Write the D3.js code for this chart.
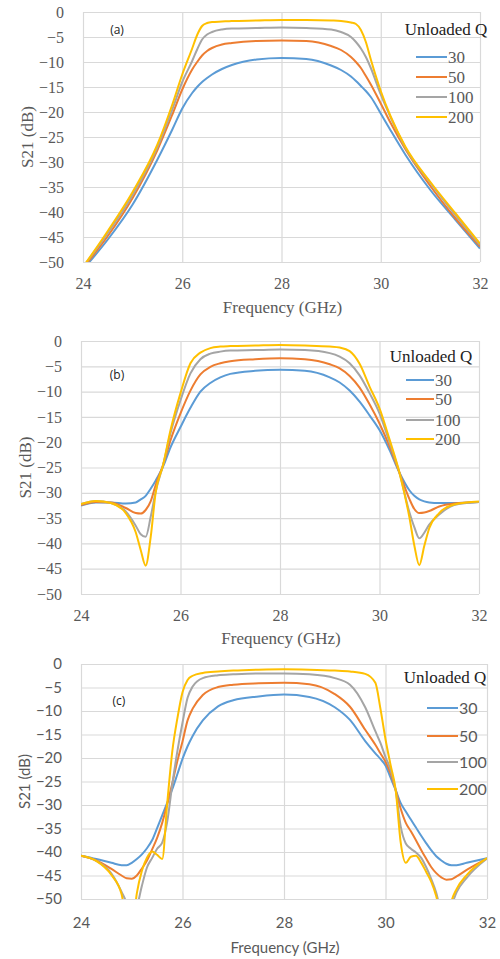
<!DOCTYPE html>
<html>
<head>
<meta charset="utf-8">
<title>S21 vs frequency</title>
<style>
  body { margin: 0; background: #fff; }
  svg { display: block; }
</style>
</head>
<body>
<div id="chart"></div>
<script src="https://d3js.org/d3.v7.min.js"></script>
<script>

// legend entries (unloaded Q) and axis ticks
var qLabels = ["30", "50", "100", "200"];
var xTicks = [24, 26, 28, 30, 32];
var yTicks = [0, -5, -10, -15, -20, -25, -30, -35, -40, -45, -50];

// panel (a)
var freqA = [24, 24.5, 25, 25.5, 25.8, 26, 26.2, 26.3, 26.4, 26.5, 26.6, 26.8, 27, 27.5, 28,
             28.5, 29, 29.2, 29.4, 29.5, 29.6, 29.7, 29.8, 30, 30.2, 30.5, 31, 31.5, 32];
var a30  = [-51.5, -45.5, -38.5, -29.5, -23.5, -19.3, -16.2, -15.0, -14.0, -13.2, -12.5, -11.4, -10.6, -9.5, -9.2,
            -9.4, -10.7, -11.6, -12.9, -13.8, -14.8, -15.8, -17.0, -20.3, -23.7, -28.6, -35.6, -41.5, -47.3];
var a50  = [-51.2, -44.8, -37.2, -27.6, -20.5, -15.5, -11.5, -10.0, -8.7, -7.8, -7.2, -6.5, -6.2, -5.8, -5.7,
            -5.8, -6.8, -7.6, -9.0, -10.0, -11.2, -12.8, -14.5, -18.3, -22.2, -27.5, -34.8, -41.2, -46.9];
var a100 = [-51.0, -44.2, -36.6, -27.0, -19.5, -14.0, -9.8, -7.5, -5.5, -4.5, -4.0, -3.5, -3.3, -3.2, -3.1,
            -3.2, -3.5, -4.0, -5.0, -6.0, -7.3, -9.0, -11.2, -16.5, -21.1, -27.2, -34.2, -40.6, -46.6];
var a200 = [-51.0, -43.8, -36.0, -26.5, -18.5, -12.5, -7.3, -4.6, -2.8, -2.2, -2.0, -1.9, -1.8, -1.7, -1.6,
            -1.6, -1.7, -1.8, -2.1, -2.4, -3.6, -6.0, -9.5, -15.8, -20.9, -27.0, -34.0, -40.2, -46.3];

// panel (b)
var freqB = [24, 24.3, 24.6, 24.9, 25.1, 25.2, 25.3, 25.4, 25.5, 25.65, 25.8, 26, 26.2, 26.4, 26.6, 26.8, 27, 27.5, 28,
             28.5, 29, 29.2, 29.4, 29.6, 29.8, 30, 30.2, 30.4, 30.6, 30.7, 30.8, 30.9, 31, 31.2, 31.5, 32];
var b30  = [-32.5, -31.9, -31.9, -32.1, -31.9, -31.3, -30.6, -29.2, -27.6, -24.8, -21.0, -17.0, -13.2, -10.0, -8.3, -7.2, -6.5, -5.9, -5.7,
            -5.9, -7.2, -8.2, -9.8, -12.0, -14.7, -17.6, -21.5, -26.0, -29.5, -30.6, -31.3, -31.7, -31.9, -32.0, -32.0, -31.8];
var b50  = [-32.4, -31.8, -31.9, -33.0, -34.0, -34.1, -33.4, -31.7, -28.5, -24.5, -19.6, -14.3, -9.8, -6.6, -5.1, -4.4, -4.0, -3.6, -3.4,
            -3.6, -4.6, -5.4, -6.9, -9.2, -12.5, -16.3, -20.8, -26.0, -31.2, -33.2, -34.0, -33.9, -33.6, -32.7, -32.1, -31.8];
var b100 = [-32.2, -31.6, -32.0, -33.7, -36.5, -38.2, -38.7, -34.8, -29.8, -24.5, -18.2, -11.7, -6.4, -3.6, -2.5, -2.1, -1.9, -1.8, -1.7,
            -1.8, -2.4, -3.1, -4.4, -6.8, -10.3, -14.3, -20.0, -26.0, -33.8, -36.8, -39.0, -37.9, -36.3, -34.3, -32.4, -31.8];
var b200 = [-32.2, -31.6, -32.0, -34.0, -37.8, -41.3, -44.4, -38.8, -30.0, -24.5, -17.6, -10.3, -4.4, -2.3, -1.4, -1.1, -1.0, -0.9, -0.8,
            -0.9, -1.1, -1.3, -2.0, -4.5, -9.0, -13.3, -19.4, -26.0, -34.8, -40.4, -44.3, -40.5, -37.0, -34.0, -32.3, -31.7];

// panel (c)
var freqC = [24, 24.3, 24.6, 24.8, 24.9, 25.0, 25.1, 25.2, 25.3, 25.4, 25.5, 25.6, 25.7, 25.8, 25.9, 26, 26.1, 26.2, 26.4, 26.7, 27, 27.5, 28,
             28.5, 29, 29.3, 29.6, 29.8, 29.9, 30, 30.1, 30.2, 30.3, 30.4, 30.5, 30.6, 30.7, 30.8, 30.9, 31, 31.1, 31.2, 31.3, 31.4, 31.6, 32];
var c30  = [-40.8, -41.5, -42.3, -42.8, -42.8, -42.3, -41.5, -40.5, -39.2, -37.5, -34.9, -32.2, -29.5, -26.6, -23.4, -20.2, -17.5, -15.3, -12.0, -9.0, -7.7, -6.9, -6.5,
            -7.0, -9.2, -11.9, -16.4, -19.0, -20.2, -21.6, -24.2, -26.8, -29.6, -31.4, -33.1, -34.8, -36.5, -38.1, -39.6, -40.9, -41.8, -42.5, -42.8, -42.8, -42.3, -41.3];
var c50  = [-40.8, -41.8, -43.6, -45.0, -45.6, -45.7, -45.0, -43.5, -41.8, -39.5, -37.0, -33.8, -29.8, -25.3, -20.6, -16.5, -12.0, -9.5, -6.6, -4.9, -4.4, -4.1, -4.0,
            -4.3, -6.4, -9.1, -14.0, -17.2, -19.0, -20.8, -23.3, -26.8, -30.8, -33.8, -35.6, -37.5, -39.5, -41.4, -43.2, -44.5, -45.4, -45.9, -45.8, -45.2, -43.8, -41.4];
var c100 = [-40.8, -41.9, -44.6, -48.5, -51.0, -56.0, -52.0, -47.2, -43.3, -41.3, -39.3, -38.0, -33.5, -25.5, -18.5, -12.5, -7.2, -4.8, -3.0, -2.4, -2.2, -2.0, -2.0,
            -2.2, -3.0, -4.4, -9.2, -14.3, -16.8, -19.8, -22.5, -26.8, -34.6, -38.2, -39.3, -40.1, -41.2, -43.2, -45.7, -48.7, -53.0, -55.0, -51.5, -48.6, -45.5, -41.4];
var c200 = [-40.8, -41.9, -44.9, -49.0, -55.0, -57.0, -48.8, -44.0, -41.2, -39.9, -40.6, -41.5, -29.5, -18.5, -11.5, -6.0, -3.4, -2.5, -1.9, -1.6, -1.4, -1.2, -1.1,
            -1.2, -1.4, -1.6, -2.1, -4.0, -9.5, -16.0, -21.5, -26.8, -38.0, -42.3, -41.0, -40.8, -42.2, -44.2, -46.3, -49.4, -54.0, -56.0, -50.5, -47.9, -44.9, -41.3];

var colors = ["#5b9bd5", "#ed7d31", "#a5a5a5", "#ffc000"];
var serif = "'Liberation Serif', 'Times New Roman', serif";
var sans = "Lato, 'Open Sans', sans-serif";

var panels = [
  {tag: "(a)", freq: freqA, series: [a30, a50, a100, a200], font: serif, tick: 16, title: 17,
   left: 83, right: 480, top: 12, bottom: 262, tagX: 117, tagY: 30,
   xTickY: 283, titleY: 307, yTitleX: 27,
   leg: {x: 446, y: 29, rows: [57, 77, 97, 117], x1: 416, x2: 447}},
  {tag: "(b)", freq: freqB, series: [b30, b50, b100, b200], font: serif, tick: 16, title: 17,
   left: 81, right: 479, top: 341, bottom: 594, tagX: 117, tagY: 375,
   xTickY: 615, titleY: 638, yTitleX: 25,
   leg: {x: 431, y: 356, rows: [380, 399, 420, 439], x1: 406, x2: 434}},
  {tag: "(c)", freq: freqC, series: [c30, c50, c100, c200], font: sans, tick: 15, title: 15,
   left: 81, right: 487, top: 664, bottom: 899, tagX: 119, tagY: 701,
   xTickY: 923, titleY: 948, yTitleX: 25,
   leg: {x: 445, y: 677, rows: [708, 736, 762, 789], x1: 427, x2: 458}}
];

var svg = d3.select("#chart").append("svg")
    .attr("width", 500)
    .attr("height", 959);

panels.forEach(function(p, i) {
  var x = d3.scaleLinear().domain([24, 32]).range([p.left, p.right]);
  var y = d3.scaleLinear().domain([-50, 0]).range([p.bottom, p.top]);
  var g = svg.append("g");

  // grid lines (all ticks, including the frame)
  g.append("g")
    .attr("transform", "translate(0," + p.bottom + ")")
    .call(d3.axisBottom(x).tickValues(xTicks).tickSize(-(p.bottom - p.top)).tickFormat(""))
    .call(function(s) { s.select(".domain").remove(); })
    .selectAll("line").attr("stroke", "#d9d9d9").attr("stroke-width", 1.2);
  g.append("g")
    .attr("transform", "translate(" + p.left + ",0)")
    .call(d3.axisLeft(y).tickValues(yTicks).tickSize(-(p.right - p.left)).tickFormat(""))
    .call(function(s) { s.select(".domain").remove(); })
    .selectAll("line").attr("stroke", "#d9d9d9").attr("stroke-width", 1.2);

  // tick labels
  var yAx = g.append("g")
    .attr("transform", "translate(" + p.left + ",0)")
    .call(d3.axisLeft(y).tickValues(yTicks).tickSize(0).tickPadding(19));
  var xAx = g.append("g")
    .attr("transform", "translate(0," + p.bottom + ")")
    .call(d3.axisBottom(x).tickValues(xTicks).tickSize(0));
  [yAx, xAx].forEach(function(a) {
    a.attr("font-family", null).attr("font-size", null);
    a.select(".domain").remove();
    a.selectAll("text")
      .style("font-family", p.font)
      .style("font-size", p.tick + "px")
      .attr("fill", "#595959");
  });
  xAx.selectAll("text").attr("y", p.xTickY - p.bottom).attr("dy", "0.35em");

  // axis titles
  g.append("text")
    .attr("x", (p.left + p.right) / 2 + 1)
    .attr("y", p.titleY)
    .attr("dy", "0.35em")
    .attr("text-anchor", "middle")
    .style("font-family", p.font)
    .style("font-size", p.title + "px")
    .attr("fill", "#595959")
    .text("Frequency (GHz)");
  g.append("text")
    .attr("transform", "translate(" + p.yTitleX + "," + ((p.top + p.bottom) / 2) + ") rotate(-90)")
    .attr("dy", "0.35em")
    .attr("text-anchor", "middle")
    .style("font-family", p.font)
    .style("font-size", p.title + "px")
    .attr("fill", "#595959")
    .text("S21 (dB)");

  // panel tag
  g.append("text")
    .attr("x", p.tagX)
    .attr("y", p.tagY)
    .attr("dy", "0.35em")
    .attr("text-anchor", "middle")
    .style("font-family", "'Open Sans', sans-serif")
    .style("font-size", "12px")
    .attr("fill", "#222")
    .text(p.tag);

  // curves
  var clipId = "clip" + i;
  g.append("clipPath").attr("id", clipId)
    .append("rect")
      .attr("x", p.left).attr("y", p.top)
      .attr("width", p.right - p.left).attr("height", p.bottom - p.top);

  var line = d3.line()
    .x(function(d) { return x(d[0]); })
    .y(function(d) { return y(d[1]); })
    .curve(d3.curveMonotoneX);

  g.append("g").attr("clip-path", "url(#" + clipId + ")")
    .selectAll("path")
    .data(p.series)
    .enter()
    .append("path")
      .attr("d", function(s) { return line(p.freq.map(function(f, k) { return [f, s[k]]; })); })
      .attr("fill", "none")
      .attr("stroke", function(s, k) { return colors[k]; })
      .attr("stroke-width", 2);

  // legend
  g.append("text")
    .attr("x", p.leg.x)
    .attr("y", p.leg.y)
    .attr("dy", "0.35em")
    .attr("text-anchor", "middle")
    .style("font-family", serif)
    .style("font-size", "17px")
    .attr("fill", "#222")
    .text("Unloaded Q");

  var items = g.selectAll(".leg").data(qLabels).enter().append("g").attr("class", "leg");
  items.append("line")
    .attr("x1", p.leg.x1).attr("x2", p.leg.x2)
    .attr("y1", function(d, k) { return p.leg.rows[k]; })
    .attr("y2", function(d, k) { return p.leg.rows[k]; })
    .attr("stroke", function(d, k) { return colors[k]; })
    .attr("stroke-width", 2);
  items.append("text")
    .attr("x", p.leg.x2 + 1)
    .attr("y", function(d, k) { return p.leg.rows[k]; })
    .attr("dy", "0.35em")
    .style("font-family", p.font)
    .style("font-size", (p.tick + 1) + "px")
    .attr("fill", "#595959")
    .text(function(d) { return d; });
});

</script>
</body>
</html>
